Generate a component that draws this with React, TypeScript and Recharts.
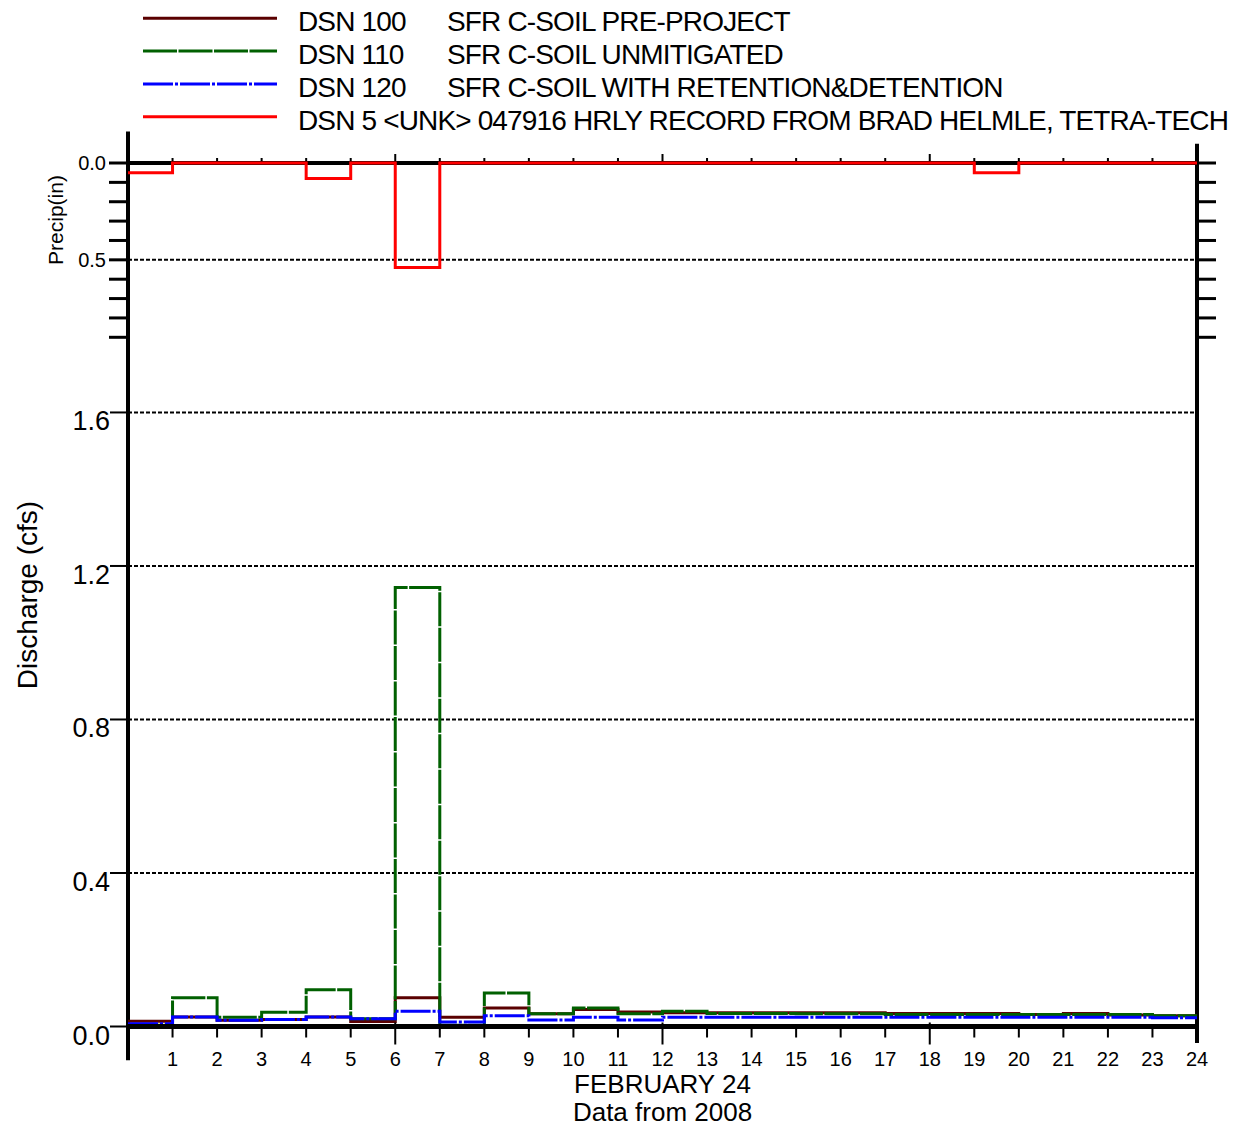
import React from 'react';
import { ComposedChart, LineChart, Line, XAxis, YAxis, CartesianGrid, ReferenceLine } from 'recharts';

const FONT = "'Liberation Sans', Arial, Helvetica, sans-serif";

// hourly values, Feb 24 2008 (value holds from hour h to h+1)
const hours = [0, 1, 2, 3, 4, 5, 6, 7, 8, 9, 10, 11, 12, 13, 14, 15, 16, 17, 18, 19, 20, 21, 22, 23, 24];
const preProject = [0.014, 0.025, 0.016, 0.018, 0.025, 0.013, 0.075, 0.024, 0.048, 0.033, 0.044, 0.038, 0.036, 0.036, 0.036, 0.036, 0.036, 0.034, 0.034, 0.034, 0.031, 0.034, 0.030, 0.028];
const unmitigated = [0.003, 0.075, 0.024, 0.037, 0.096, 0.020, 1.144, 0.003, 0.087, 0.033, 0.048, 0.033, 0.040, 0.034, 0.034, 0.033, 0.033, 0.031, 0.031, 0.031, 0.031, 0.031, 0.031, 0.028];
const retention = [0.007, 0.025, 0.016, 0.018, 0.025, 0.020, 0.040, 0.012, 0.028, 0.017, 0.024, 0.017, 0.024, 0.024, 0.024, 0.024, 0.024, 0.024, 0.024, 0.024, 0.024, 0.024, 0.024, 0.023];
const precip = [0.05, 0, 0, 0, 0.08, 0, 0.54, 0, 0, 0, 0, 0, 0, 0, 0, 0, 0, 0, 0, 0.05, 0, 0, 0, 0];

const flowTicks = [0, 0.4, 0.8, 1.2, 1.6];
const precipTicks = [0, 0.1, 0.2, 0.3, 0.4, 0.5, 0.6, 0.7, 0.8, 0.9];
const precipLabels = [0, 0.5];
const longHourTicks = [6, 12, 18];

const legendNames = ['DSN 100', 'DSN 110', 'DSN 120', 'DSN 5 <UNK> 047916 HRLY RECORD FROM BRAD HELMLE, TETRA-TECH'];
const legendDesc = ['SFR C-SOIL PRE-PROJECT', 'SFR C-SOIL UNMITIGATED', 'SFR C-SOIL WITH RETENTION&DETENTION', ''];
const colors = ['#5a0000', '#006000', '#0000ff', '#ff0000'];
const dashes = [undefined, '34 1.5', '30 2 3 2', undefined];

const at = (arr, h) => arr[Math.min(h, arr.length - 1)];
const flowData = hours.map((h) => ({
  hour: h,
  pre: at(preProject, h),
  unmit: at(unmitigated, h),
  ret: at(retention, h),
}));
const precipData = hours.map((h) => ({ hour: h, rain: at(precip, h) }));

const HourTick = ({ x, y, payload }) => {
  const v = payload.value;
  const long = longHourTicks.includes(v);
  return (
    <g>
      <line x1={x} x2={x} y1={y - (long ? 6 : 0)} y2={y + (long ? 16 : 9)} stroke="#000" strokeWidth={2} />
      {v > 0 && (
        <text x={x} y={y + 37} textAnchor="middle" fontSize={20} fontFamily={FONT} fill="#000">
          {v}
        </text>
      )}
    </g>
  );
};

const TopTick = ({ x, y, payload }) => {
  const long = longHourTicks.includes(payload.value);
  return <line x1={x} x2={x} y1={y} y2={y - (long ? 7 : 3)} stroke="#000" strokeWidth={2} />;
};

const EmptyTick = () => <g />;

const FlowTick = ({ x, y, payload }) => (
  <text x={x + 2} y={y + 18} textAnchor="end" fontSize={27} fontFamily={FONT} fill="#000">
    {payload.value.toFixed(1)}
  </text>
);

const PrecipTick = ({ x, y, payload }) =>
  precipLabels.includes(payload.value) ? (
    <text x={x} y={y + 7} textAnchor="end" fontSize={20} fontFamily={FONT} fill="#000">
      {payload.value.toFixed(1)}
    </text>
  ) : (
    <g />
  );

const FlowLabel = () => (
  <text transform="translate(27,595) rotate(-90)" textAnchor="middle" dominantBaseline="central" fontSize={28} fontFamily={FONT} fill="#000">
    Discharge (cfs)
  </text>
);

const PrecipLabel = () => (
  <text transform="translate(55,220) rotate(-90)" textAnchor="middle" dominantBaseline="central" fontSize={21} fontFamily={FONT} fill="#000">
    Precip(in)
  </text>
);

const DateLabel = ({ viewBox }) => {
  const cx = viewBox.x + viewBox.width / 2;
  return (
    <g fontFamily={FONT} fontSize={26} fill="#000" textAnchor="middle">
      <text x={cx} y={1093}>FEBRUARY 24</text>
      <text x={cx} y={1121}>Data from 2008</text>
    </g>
  );
};

const Legend = () => (
  <svg width={1240} height={140} style={{ position: 'absolute', left: 0, top: 0 }}>
    {legendNames.map((name, i) => {
      const y = 18.3 + i * 32.8;
      return (
        <g key={name}>
          <line x1={143} x2={277} y1={y} y2={y} stroke={colors[i]} strokeWidth={3} strokeDasharray={dashes[i]} />
          <text x={298} y={y + 13} fontSize={28} letterSpacing={-0.85} fontFamily={FONT} fill="#000">
            {name}
          </text>
          {legendDesc[i] && (
            <text x={447} y={y + 13} fontSize={28} letterSpacing={-0.85} fontFamily={FONT} fill="#000">
              {legendDesc[i]}
            </text>
          )}
        </g>
      );
    })}
  </svg>
);

export default function App() {
  return (
    <div style={{ position: 'absolute', left: 0, top: 0, width: 1240, height: 1128, background: '#fff' }}>
      <div style={{ position: 'absolute', left: 0, top: 0 }}>
        <ComposedChart width={1240} height={1128} data={flowData} margin={{ top: 153, right: 43, bottom: 41.5, left: 48 }}>
          <CartesianGrid vertical={false} stroke="#000" strokeWidth={2} strokeDasharray="4 2" />
          <XAxis
            dataKey="hour"
            type="number"
            domain={[0, 24]}
            ticks={hours}
            interval={0}
            height={60}
            axisLine={{ stroke: '#000', strokeWidth: 5 }}
            tickLine={false}
            tickSize={0}
            tick={HourTick}
            label={DateLabel}
          />
          <XAxis
            xAxisId="top"
            orientation="top"
            dataKey="hour"
            type="number"
            domain={[0, 24]}
            ticks={hours}
            interval={0}
            height={10}
            axisLine={{ stroke: '#000', strokeWidth: 4 }}
            tickLine={false}
            tickSize={0}
            tick={TopTick}
          />
          <YAxis
            type="number"
            domain={[0, 2.25]}
            ticks={flowTicks}
            interval={0}
            width={80}
            axisLine={false}
            tickSize={18}
            tickLine={{ stroke: '#000', strokeWidth: 2 }}
            tick={FlowTick}
            label={FlowLabel}
          />
          <ReferenceLine segment={[{ x: 0, y: -0.088 }, { x: 0, y: 2.332 }]} stroke="#000" strokeWidth={4} ifOverflow="visible" />
          <ReferenceLine segment={[{ x: 24, y: -0.043 }, { x: 24, y: 2.3 }]} stroke="#000" strokeWidth={4} ifOverflow="visible" />
          <Line type="stepAfter" dataKey="pre" stroke={colors[0]} strokeWidth={3} dot={false} isAnimationActive={false} />
          <Line type="stepAfter" dataKey="unmit" stroke={colors[1]} strokeWidth={3} strokeDasharray={dashes[1]} dot={false} isAnimationActive={false} />
          <Line type="stepAfter" dataKey="ret" stroke={colors[2]} strokeWidth={3} strokeDasharray={dashes[2]} dot={false} isAnimationActive={false} />
        </ComposedChart>
      </div>
      <div style={{ position: 'absolute', left: 0, top: 0 }}>
        <LineChart width={1240} height={400} data={precipData} margin={{ top: 163, right: 13, bottom: 62.7, left: 68 }}>
          <XAxis dataKey="hour" type="number" domain={[0, 24]} hide />
          <YAxis
            yAxisId="p"
            type="number"
            reversed
            domain={[0, 0.9]}
            ticks={precipTicks}
            interval={0}
            width={60}
            axisLine={false}
            tickSize={19}
            tickMargin={3}
            tickLine={{ stroke: '#000', strokeWidth: 3 }}
            tick={PrecipTick}
            label={PrecipLabel}
          />
          <YAxis
            yAxisId="pr"
            orientation="right"
            type="number"
            reversed
            domain={[0, 0.9]}
            ticks={precipTicks}
            interval={0}
            width={30}
            axisLine={false}
            tickSize={19}
            tickLine={{ stroke: '#000', strokeWidth: 3 }}
            tick={EmptyTick}
          />
          <ReferenceLine yAxisId="p" y={0.5} stroke="#000" strokeWidth={2} strokeDasharray="4 2" />
          <Line yAxisId="pr" type="stepAfter" dataKey="rain" stroke="none" strokeWidth={0} dot={false} isAnimationActive={false} />
          <Line yAxisId="p" type="stepAfter" dataKey="rain" stroke={colors[3]} strokeWidth={3} dot={false} isAnimationActive={false} />
        </LineChart>
      </div>
      <Legend />
    </div>
  );
}
